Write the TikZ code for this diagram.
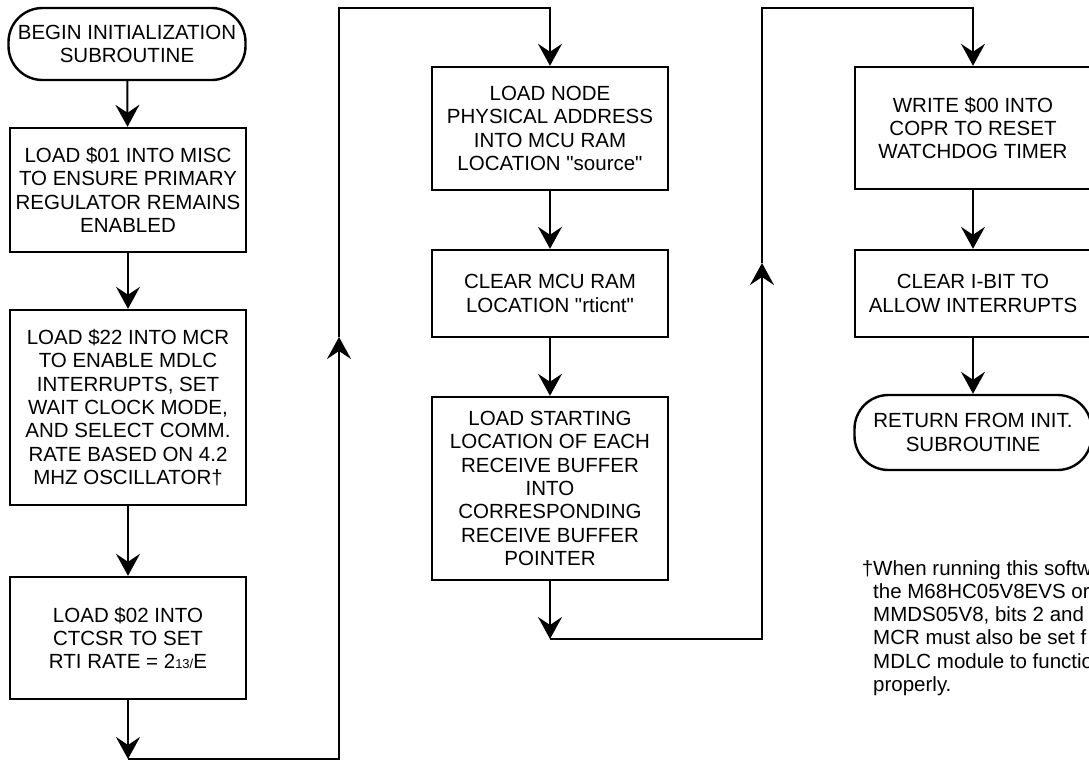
\documentclass[tikz,border=0pt]{standalone}
\usepackage{fontspec}
\setmainfont{Liberation Sans}[Ligatures=TeXOff]
\usetikzlibrary{arrows.meta}
\tikzset{
  box/.style={draw, line width=2.4pt, minimum width=236pt, align=center, inner sep=2pt,
    font=\fontsize{20.5}{23.4}\selectfont},
  term/.style={box, rounded corners=34pt, minimum width=237pt},
  conn/.style={line width=2pt, line join=miter},
  arr/.style={conn, -{Stealth[length=22pt,width=24pt,inset=8pt]}},
  note/.style={anchor=north west, align=left, inner sep=0pt,
    font=\fontsize{20.5}{23.3}\selectfont}
}
\begin{document}
\begin{tikzpicture}[x=1pt,y=-1pt]
\useasboundingbox (0,0) rectangle (1089,763);
\clip (0,0) rectangle (1089,763);
\fill[white] (0,0) rectangle (1089,763);
% left column
\node[term, minimum height=72pt] (t1) at (127,44) {BEGIN INITIALIZATION\\SUBROUTINE};
\node[box, minimum height=124pt] (b1) at (128,190) {LOAD \$01 INTO MISC\\TO ENSURE PRIMARY\\REGULATOR REMAINS\\ENABLED};
\node[box, minimum height=195pt] (b2) at (128,407.5) {LOAD \$22 INTO MCR\\TO ENABLE MDLC\\INTERRUPTS, SET\\WAIT CLOCK MODE,\\AND SELECT COMM.\\RATE BASED ON 4.2\\MHZ OSCILLATOR†};
\node[box, minimum height=122pt] (b3) at (128,638) {LOAD \$02 INTO\\CTCSR TO SET\\RTI RATE = 2{\fontsize{13}{13}\selectfont 13/}E};
% middle column
\node[box, minimum height=123pt] (b4) at (550,128.5) {LOAD NODE\\PHYSICAL ADDRESS\\INTO MCU RAM\\LOCATION "source"};
\node[box, minimum height=87pt] (b5) at (550,293.5) {CLEAR MCU RAM\\LOCATION "rticnt"};
\node[box, minimum height=183pt] (b6) at (550,488.5) {LOAD STARTING\\LOCATION OF EACH\\RECEIVE BUFFER\\INTO\\CORRESPONDING\\RECEIVE BUFFER\\POINTER};
% right column
\node[box, minimum height=122pt] (b7) at (973,128) {WRITE \$00 INTO\\COPR TO RESET\\WATCHDOG TIMER};
\node[box, minimum height=87pt] (b8) at (973,293.5) {CLEAR I-BIT TO\\ALLOW INTERRUPTS};
\node[term, minimum height=75pt] (t2) at (973,432.5) {RETURN FROM INIT.\\SUBROUTINE};
% footnote
\node[note] (fn) at (873,560) {\llap{†}When running this softw\\the M68HC05V8EVS or\\MMDS05V8, bits 2 and\\MCR must also be set f\\MDLC module to functio\\properly.};
% connectors
\draw[arr] (t1) -- (b1);
\draw[arr] (b1) -- (b2);
\draw[arr] (b2) -- (b3);
\coordinate (c1) at (128,759);
\coordinate (c2) at (339,759);
\coordinate (c3) at (339,337);
\coordinate (c4) at (339,8);
\coordinate (c5) at (550,8);
\draw[arr] (b3.south) -- (c1);
\draw[arr] (c1) -- (c2) -- (c3);
\draw[arr] (c3) -- (c4) -- (c5) -- (b4.north);
\draw[arr] (b4) -- (b5);
\draw[arr] (b5) -- (b6);
\coordinate (d1) at (550,639);
\coordinate (d2) at (762,639);
\coordinate (d3) at (762,263);
\coordinate (d4) at (762,8);
\coordinate (d5) at (973,8);
\draw[arr] (b6.south) -- (d1);
\draw[arr] (d1) -- (d2) -- (d3);
\draw[arr] (d3) -- (d4) -- (d5) -- (b7.north);
\draw[arr] (b7) -- (b8);
\draw[arr] (b8) -- (t2);
\end{tikzpicture}
\end{document}
